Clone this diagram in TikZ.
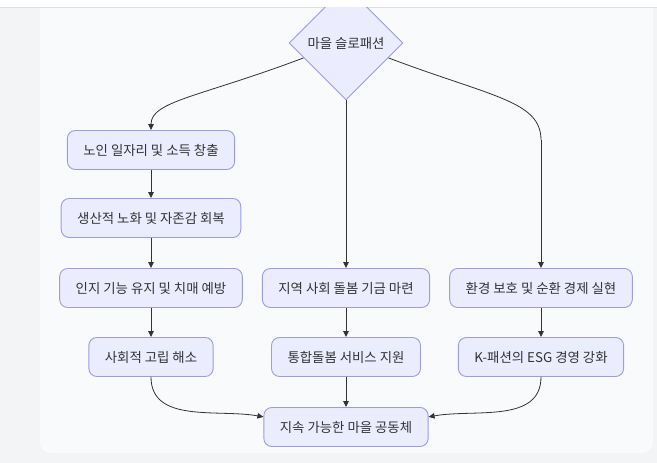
\documentclass[tikz,border=0pt]{standalone}
\usepackage{fontspec}
\usetikzlibrary{arrows.meta, positioning, calc, shapes.geometric}
\newfontfamily\kofont{Noto Sans CJK KR}
\definecolor{latarluar}{RGB}{243,244,246}
\definecolor{latarpanel}{RGB}{249,250,251}
\definecolor{garisatas}{RGB}{222,223,226}
\definecolor{isikotak}{RGB}{236,236,255}
\definecolor{tepikotak}{RGB}{155,155,232}
\definecolor{teksgelap}{RGB}{51,51,51}

\tikzset{
  kotak/.style={draw=tepikotak, fill=isikotak, line width=0.9pt, rounded corners=8pt,
    minimum height=39pt, inner xsep=16pt, text=teksgelap},
  pusat/.style={diamond, draw=tepikotak, fill=isikotak, line width=0.9pt,
    minimum size=114pt, inner sep=0pt, text=teksgelap},
  panah/.style={draw=teksgelap, line width=0.8pt, -{Triangle[length=6pt, width=5.5pt]}}
}

\begin{document}
\begin{tikzpicture}[x=1pt, y=1pt, font=\kofont\fontsize{13.4}{15}\selectfont]
    \useasboundingbox (0,0) rectangle (657,463);
    % latar
    \fill[latarluar] (0,0) rectangle (657,463);
    \fill[latarpanel, rounded corners=10pt] (40,10) rectangle (653,480);
    \fill[white] (0,455) rectangle (657,463);
    \draw[garisatas, line width=1pt] (0,455) -- (657,455);

    \begin{scope}
        \clip (0,0) rectangle (657,455);
        \node[pusat] (desa) at (346,420) {마을 슬로패션};
        \foreach \nama/\x/\y/\isi in {
            kerja/151/313/{노인 일자리 및 소득 창출},
            produktif/151/245/{생산적 노화 및 자존감 회복},
            kognitif/151/175/{인지 기능 유지 및 치매 예방},
            dana/346/175/{지역 사회 돌봄 기금 마련},
            sirkular/541/175/{환경 보호 및 순환 경제 실현},
            isolasi/151/106/{사회적 고립 해소},
            layanan/346/106/{통합돌봄 서비스 지원},
            esg/541/106/{K-패션의 ESG 경영 강화},
            komunitas/346/36/{지속 가능한 마을 공동체}}
        {
            \node[kotak] (\nama) at (\x,\y) {\isi};
        }
    \end{scope}

    \coordinate (belokkanan) at (541,323);
    \draw[panah] ($(desa.west)!0.26!(desa.south)$) .. controls (200,366) and (151,362) .. (kerja.north);
    \draw[panah] (desa.south) -- (dana.north);
    \draw[panah, -] ($(desa.east)!0.26!(desa.south)$) .. controls (492,366) and (541,362) .. (belokkanan);
    \draw[panah] (belokkanan) -- (sirkular.north);

    \draw[panah] (kerja) -- (produktif);
    \draw[panah] (produktif) -- (kognitif);
    \draw[panah] (kognitif) -- (isolasi);
    \draw[panah] (dana) -- (layanan);
    \draw[panah] (sirkular) -- (esg);
    \draw[panah] (layanan) -- (komunitas);
    \draw[panah] (isolasi.south) to[out=-90, in=170] (komunitas.173);
    \draw[panah] (esg.south) to[out=-90, in=10] (komunitas.7);
\end{tikzpicture}
\end{document}
